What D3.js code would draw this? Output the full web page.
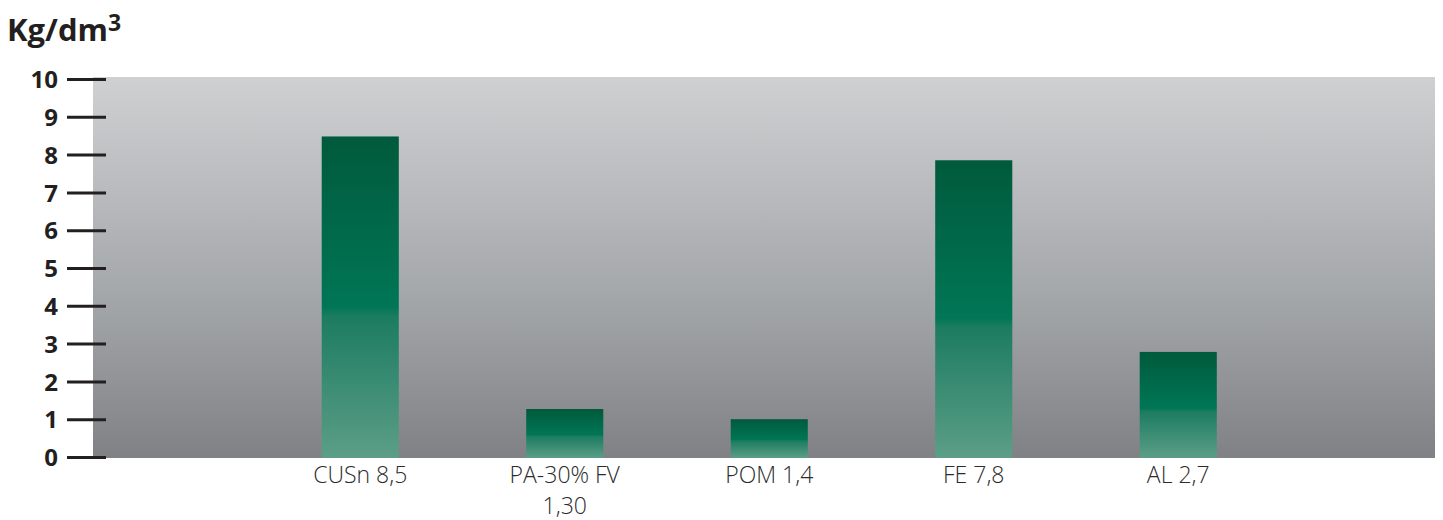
<!DOCTYPE html>
<html>
<head lang="en">
    <meta charset="UTF-8">
    <title>Kg/dm3</title>
    <script src="https://cdn.jsdelivr.net/npm/d3@7/dist/d3.min.js" charset="utf-8"></script>
    <style>
        body { margin: 0; background: #fff; }
    </style>
</head>
<body>
    <script>
        var categories = ["CUSn 8,5", "PA-30% FV|1,30", "POM 1,4", "FE 7,8", "AL 2,7"];
        var values = [8.48, 1.27, 1.0, 7.85, 2.78];
        var yTicks = [0, 1, 2, 3, 4, 5, 6, 7, 8, 9, 10];

        var w = 1443, h = 520;
        var plot = {left: 93, right: 1435, top: 77, bottom: 458};

        var svg = d3.select("body").append("svg")
                .attr("width", w)
                .attr("height", h);

        var defs = svg.append("defs");

        var bg = defs.append("linearGradient")
                .attr("id", "bgGrad")
                .attr("x1", 0).attr("y1", 0).attr("x2", 0).attr("y2", 1);
        bg.append("stop").attr("offset", "0%").attr("stop-color", "#cfd0d2");
        bg.append("stop").attr("offset", "60%").attr("stop-color", "#a2a5a8");
        bg.append("stop").attr("offset", "100%").attr("stop-color", "#808184");

        var bar = defs.append("linearGradient")
                .attr("id", "barGrad")
                .attr("x1", 0).attr("y1", 0).attr("x2", 0).attr("y2", 1);
        bar.append("stop").attr("offset", "0%").attr("stop-color", "#005a3b");
        bar.append("stop").attr("offset", "53%").attr("stop-color", "#007656");
        bar.append("stop").attr("offset", "56%").attr("stop-color", "#1c7c60");
        bar.append("stop").attr("offset", "100%").attr("stop-color", "#5c9e87");

        var y = d3.scaleLinear().domain([0, 10]).range([457, 79]);
        var x = d3.scaleBand()
                .domain(categories)
                .range([258, 1280.5])
                .paddingInner(0.623)
                .paddingOuter(0.3115);

        svg.append("rect")
                .attr("x", plot.left)
                .attr("y", plot.top)
                .attr("width", plot.right - plot.left)
                .attr("height", plot.bottom - plot.top)
                .attr("fill", "url(#bgGrad)");

        svg.selectAll("rect.bar")
                .data(values)
                .enter()
                .append("rect")
                .attr("class", "bar")
                .attr("x", function (d, i) { return x(categories[i]); })
                .attr("y", function (d) { return y(d); })
                .attr("width", x.bandwidth())
                .attr("height", function (d) { return plot.bottom - y(d); })
                .attr("fill", "url(#barGrad)");

        // y axis: tick marks + bold labels
        var yAxis = d3.axisLeft(y)
                .tickValues(yTicks)
                .tickSize(39)
                .tickPadding(9);
        var ya = svg.append("g")
                .attr("transform", "translate(106,0)")
                .call(yAxis);
        ya.select(".domain").remove();
        ya.selectAll(".tick line")
                .attr("stroke", "#231f20")
                .attr("stroke-width", 3);
        ya.selectAll(".tick text")
                .attr("fill", "#231f20")
                .attr("font-family", "'Open Sans', sans-serif")
                .attr("font-weight", "bold")
                .attr("font-size", 24)
                .attr("dy", "0.36em");

        // x labels (second line as its own text so boxes don't overlap)
        categories.forEach(function (d) {
            var lines = d.split("|");
            var cx = x(d) + x.bandwidth() / 2;
            lines.forEach(function (s, j) {
                svg.append("text")
                        .attr("class", "xl")
                        .attr("text-anchor", "middle")
                        .attr("font-family", "'Open Sans', sans-serif")
                        .attr("font-weight", 300)
                        .attr("font-size", 23)
                        .attr("fill", "#2b2b2b")
                        .attr("x", cx)
                        .attr("y", 483 + j * 31)
                        .text(s);
            });
        });

        // unit title
        var title = svg.append("text")
                .attr("x", 7)
                .attr("y", 41)
                .attr("font-family", "'Open Sans', sans-serif")
                .attr("font-weight", "bold")
                .attr("font-size", 31)
                .attr("fill", "#231f20")
                .text("Kg/dm");
        title.append("tspan")
                .attr("dy", -10)
                .attr("font-size", 23)
                .text("3");
    </script>
</body>
</html>
